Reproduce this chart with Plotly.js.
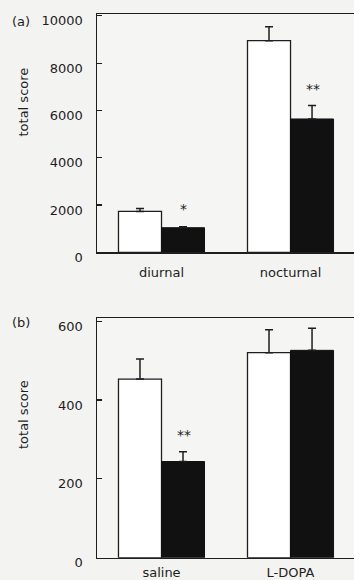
<!DOCTYPE html>
<html>
<head>
<meta charset="utf-8">
<script src="https://cdn.plot.ly/plotly-3.0.1.min.js"></script>
<style>
  html, body { margin: 0; padding: 0; background: #f3f3f1; }
  #chart { width: 354px; height: 580px; }
</style>
</head>
<body>
<div id="chart"></div>
<script>
// ---- Panel (a) data ----
const categoriesA = ['diurnal', 'nocturnal'];
const controlA = [1730, 8950];
const controlErrA = [125, 590];
const treatedA = [1040, 5640];
const treatedErrA = [40, 565];
const sigA = ['*', '**'];
const sigYA = [1818, 6890];
const yTicksA = [0, 2000, 4000, 6000, 8000, 10000];

// ---- Panel (b) data ----
const categoriesB = ['saline', 'L-DOPA'];
const controlB = [453, 520];
const controlErrB = [51, 58];
const treatedB = [244, 526];
const treatedErrB = [25, 56];
const sigB = ['**', ''];
const sigYB = [312, 0];
const yTicksB = [0, 200, 400, 600];

const panelLabels = ['(a)', '(b)'];
const yTitle = 'total score';

const FONT = 'DejaVu Sans, Arial, sans-serif';
const INK = '#1e1e1e';
const W = 354, H = 580;

function errBar(vals) {
  return { type: 'data', symmetric: false, array: vals, arrayminus: vals.map(() => 0),
           color: INK, thickness: 1.5, width: 4 };
}

const traces = [
  { type: 'bar', x: categoriesA, y: controlA, xaxis: 'x', yaxis: 'y',
    marker: { color: '#ffffff', line: { color: INK, width: 1.3 } }, error_y: errBar(controlErrA) },
  { type: 'bar', x: categoriesA, y: treatedA, xaxis: 'x', yaxis: 'y',
    marker: { color: '#111111', line: { color: '#111111', width: 1 } }, error_y: errBar(treatedErrA) },
  { type: 'bar', x: categoriesB, y: controlB, xaxis: 'x2', yaxis: 'y2',
    marker: { color: '#ffffff', line: { color: INK, width: 1.3 } }, error_y: errBar(controlErrB) },
  { type: 'bar', x: categoriesB, y: treatedB, xaxis: 'x2', yaxis: 'y2',
    marker: { color: '#111111', line: { color: '#111111', width: 1 } }, error_y: errBar(treatedErrB) }
];

const xDom = [97 / W, 1];
function xAxis(anchor, standoff) {
  return { domain: xDom, anchor: anchor, range: [-0.5, 1.492], showline: true, linecolor: INK,
           linewidth: 1.5, mirror: true, ticks: '', showgrid: false, zeroline: false, fixedrange: true,
           tickfont: { family: FONT, size: 13, color: INK }, ticklabelstandoff: standoff };
}
function yAxis(anchor, dom, range, ticks) {
  return { domain: dom, anchor: anchor, range: range, tickvals: ticks, ticktext: ticks.map(String),
           showline: true, linecolor: INK, linewidth: 1.5, mirror: false, ticks: 'inside', ticklen: 5,
           tickcolor: INK, tickwidth: 1.2, showgrid: false, zeroline: false, fixedrange: true,
           tickfont: { family: FONT, size: 13, color: INK }, ticklabelstandoff: 10, ticklabelshift: 5 };
}

const annotations = [];
sigA.forEach((s, i) => { if (s) annotations.push({ xref: 'x', yref: 'y', x: categoriesA[i], y: sigYA[i], xshift: 22,
  text: s, showarrow: false, font: { family: FONT, size: 14, color: INK }, yanchor: 'middle' }); });
sigB.forEach((s, i) => { if (s) annotations.push({ xref: 'x2', yref: 'y2', x: categoriesB[i], y: sigYB[i], xshift: 22,
  text: s, showarrow: false, font: { family: FONT, size: 14, color: INK }, yanchor: 'middle' }); });
// panel labels and y titles
[[21, 102.5], [322, 415]].forEach((p, i) => {
  annotations.push({ xref: 'paper', yref: 'paper', x: 10 / W, y: 1 - p[0] / H, xanchor: 'left', yanchor: 'middle',
    text: panelLabels[i], showarrow: false, font: { family: FONT, size: 13, color: INK } });
  annotations.push({ xref: 'paper', yref: 'paper', x: 23 / W, y: 1 - p[1] / H, xanchor: 'center', yanchor: 'middle',
    text: yTitle, textangle: -90, showarrow: false, font: { family: FONT, size: 13, color: INK } });
});

const layout = {
  width: W, height: H,
  margin: { l: 0, r: 0, t: 0, b: 0 },
  paper_bgcolor: '#f3f3f1', plot_bgcolor: '#f5f5f3',
  showlegend: false,
  barmode: 'group', bargap: 0.333, bargroupgap: 0,
  xaxis: xAxis('y', 8),
  yaxis: yAxis('x', [1 - 252.3 / H, 1 - 14 / H], [0, 10080], yTicksA),
  xaxis2: xAxis('y2', 2),
  yaxis2: yAxis('x2', [1 - 557.7 / H, 1 - 318 / H], [0, 608], yTicksB),
  annotations: annotations
};

Plotly.newPlot('chart', traces, layout, { staticPlot: true, displayModeBar: false });
</script>
</body>
</html>
